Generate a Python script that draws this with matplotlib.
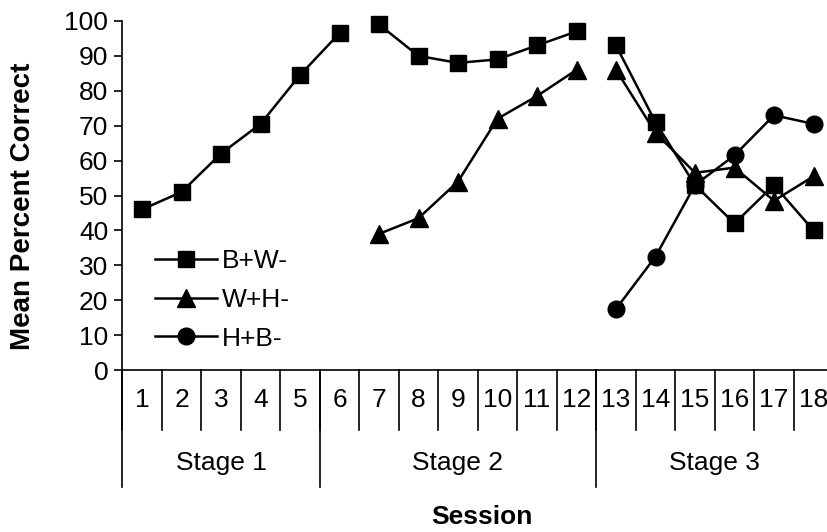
import matplotlib
matplotlib.use("Agg")
import matplotlib.pyplot as plt
import numpy as np

plt.rcParams['font.family'] = ['Liberation Sans', 'DejaVu Sans']

# data
sessions = list(range(1, 19))
bw = [46, 51, 62, 70.5, 84.5, 96.5, 99, 90, 88, 89, 93, 97, 93, 71, 53, 42, 53, 40]
wh = [None] * 6 + [39, 43.5, 54, 72, 78.5, 86, 86, 68, 56.5, 58, 48.5, 55.5]
hb = [None] * 12 + [17.5, 32.5, 53, 61.5, 73, 70.5]

# sessions joined by a line (the line breaks between runs)
runs = [(1, 6), (7, 12), (13, 18)]

stages = ["Stage 1", "Stage 2", "Stage 3"]
stage_bounds = [0.5, 5.5, 12.5, 18.5]

series = [("B+W-", bw, "s", 12), ("W+H-", wh, "^", 13), ("H+B-", hb, "o", 12)]

fs = 19
W, H = 827, 532
x0, cw = 122.25, 39.5
fig = plt.figure(figsize=(W / 100, H / 100), dpi=100)
ax = fig.add_axes([x0 / W, 1 - 370 / H, 18 * cw / W, 349 / H])

for name, vals, mk, ms in series:
    first = True
    for a, b in runs:
        xs = [s for s in sessions if a <= s <= b and vals[s - 1] is not None]
        ys = [vals[s - 1] for s in xs]
        if not xs:
            continue
        ax.plot(xs, ys, color='black', lw=1.8, marker=mk, ms=ms,
                label=name if first else None, clip_on=False)
        first = False

ax.set_xlim(0.5, 18.5)
ax.set_ylim(0, 100)
ax.set_yticks(range(0, 101, 10))
ax.tick_params(axis='y', labelsize=fs, length=6, width=1.2, pad=4)
ax.set_xticks(sessions)
ax.set_xticklabels([str(s) for s in sessions])
ax.tick_params(axis='x', labelsize=fs, length=0, pad=13)

for sp in ['top', 'right']:
    ax.spines[sp].set_visible(False)
ax.spines['left'].set_linewidth(1.2)
ax.spines['bottom'].set_linewidth(1.2)

# category dividers below the axis
tr = ax.get_xaxis_transform()
cat_low = -60 / 349
stage_low = -117 / 349
for k in range(0, 19):
    ax.plot([k + 0.5, k + 0.5], [0, cat_low], transform=tr, color='black',
            lw=1.2, clip_on=False)
for xb in stage_bounds:
    ax.plot([xb, xb], [0, stage_low], transform=tr, color='black',
            lw=1.2, clip_on=False)
for i, st in enumerate(stages):
    xc = (stage_bounds[i] + stage_bounds[i + 1]) / 2
    ax.text(xc, -93 / 349, st, transform=tr, ha='center', va='center',
            fontsize=fs)

fig.text(482 / W, 1 - 517 / H, "Session", ha='center', va='center',
         fontsize=fs, fontweight='bold')
fig.text(23 / W, 1 - 206 / H, "Mean Percent Correct", rotation=90,
         ha='center', va='center', fontsize=20, fontweight='bold')

ax.legend(loc='center left', bbox_to_anchor=(155 / W, 1 - 300 / H),
          bbox_transform=fig.transFigure, frameon=False, fontsize=fs,
          borderpad=0, borderaxespad=0, handlelength=2.35,
          handletextpad=0.2, labelspacing=0.55)

fig.savefig("out.png", dpi=100)
